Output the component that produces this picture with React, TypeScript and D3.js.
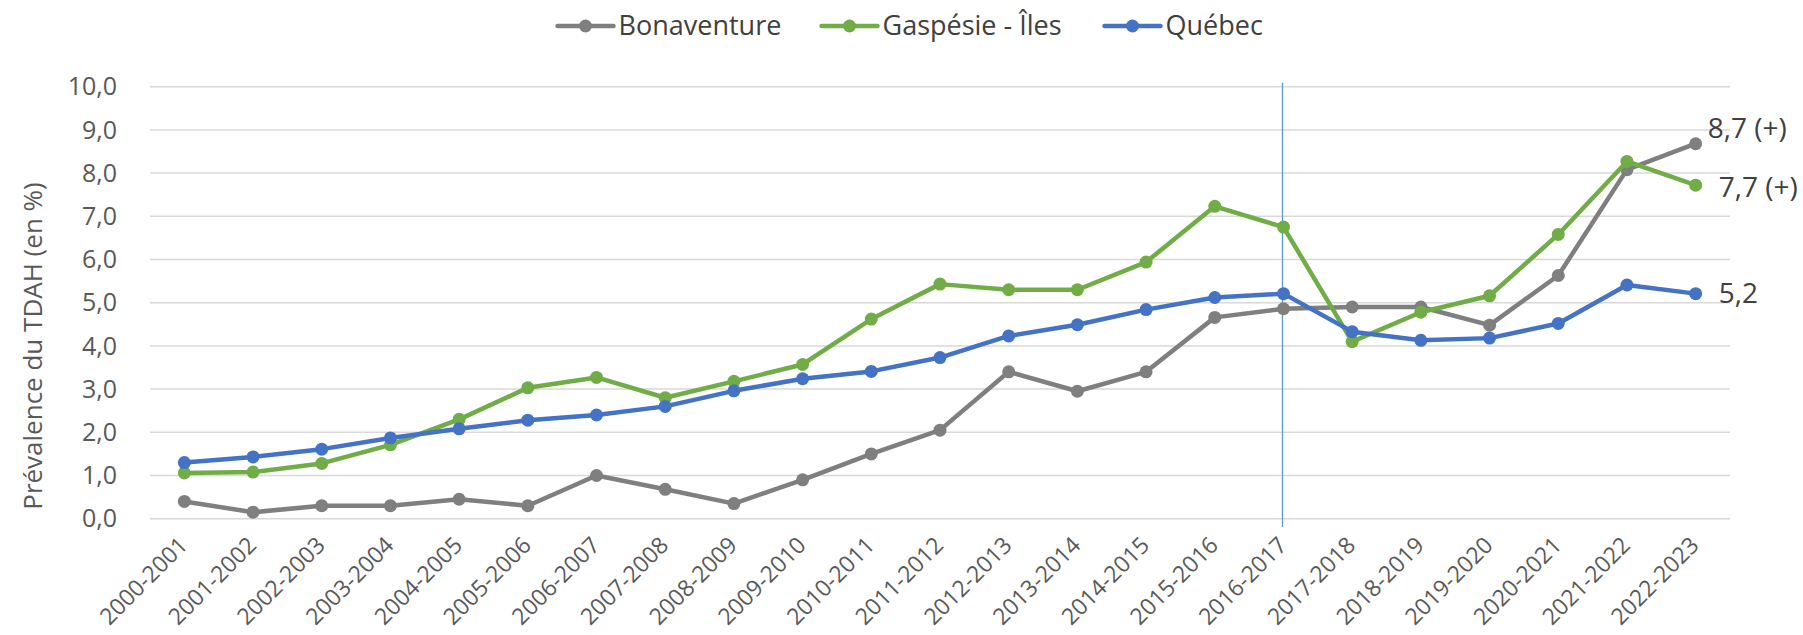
import React from "react";
import * as d3 from "d3";

const categories = [
  "2000-2001", "2001-2002", "2002-2003", "2003-2004", "2004-2005", "2005-2006",
  "2006-2007", "2007-2008", "2008-2009", "2009-2010", "2010-2011", "2011-2012",
  "2012-2013", "2013-2014", "2014-2015", "2015-2016", "2016-2017", "2017-2018",
  "2018-2019", "2019-2020", "2020-2021", "2021-2022", "2022-2023",
];

const bonaventure = [0.4, 0.15, 0.3, 0.3, 0.45, 0.3, 1.0, 0.68, 0.35, 0.9, 1.5, 2.05, 3.4, 2.95, 3.4, 4.66, 4.86, 4.9, 4.9, 4.48, 5.63, 8.08, 8.68];
const gaspesie = [1.06, 1.08, 1.28, 1.71, 2.3, 3.03, 3.27, 2.8, 3.18, 3.57, 4.62, 5.43, 5.3, 5.3, 5.94, 7.23, 6.75, 4.1, 4.78, 5.16, 6.58, 8.27, 7.72];
const quebec = [1.3, 1.43, 1.61, 1.87, 2.08, 2.28, 2.4, 2.6, 2.96, 3.24, 3.41, 3.73, 4.23, 4.49, 4.84, 5.12, 5.21, 4.33, 4.13, 4.18, 4.52, 5.41, 5.21];

const seriesNames = ["Bonaventure", "Gaspésie - Îles", "Québec"];
const seriesColors = ["#7F7F7F", "#70AD47", "#4472C4"];
const endLabels = ["8,7 (+)", "7,7 (+)", "5,2"];

const yTicks = [0, 1, 2, 3, 4, 5, 6, 7, 8, 9, 10];
const markerCategory = "2016-2017";
const yTitle = "Prévalence du TDAH (en %)";

const W = 1803;
const H = 635;
const FONT = "'Open Sans', 'Noto Sans', sans-serif";
const TEXT = "#595959";

export default function App() {
  const x = d3.scaleBand<string>().domain(categories).range([150, 1730]);
  const xc = (c: string) => (x(c) as number) + x.bandwidth() / 2;
  const y = d3.scaleLinear().domain([0, 10]).range([518.7, 86.7]);
  const fmt = (v: number) => d3.format(".1f")(v).replace(".", ",");

  const allSeries = [bonaventure, gaspesie, quebec];
  const line = d3
    .line<number>()
    .x((_, i) => xc(categories[i]))
    .y((d) => y(d));

  // legend layout
  const legendWidths = [164, 183, 100];
  const sym = 56;
  const gapSym = 5;
  const gapItem = 39;
  const totalLegend =
    legendWidths.reduce((a, b) => a + b, 0) + 3 * (sym + gapSym) + 2 * gapItem;
  let lx = 911.5 - totalLegend / 2;
  const legendPos = legendWidths.map((w) => {
    const p = lx;
    lx += sym + gapSym + w + gapItem;
    return p;
  });
  const legendY = 26;

  const lastIdx = categories.length - 1;
  const labelOffsets = [
    { dx: 12, dy: -16 },
    { dx: 23, dy: 2 },
    { dx: 23, dy: 0 },
  ];

  return (
    <svg
      width={W}
      height={H}
      style={{ position: "absolute", left: 0, top: 0, background: "#fff" }}
      fontFamily={FONT}
    >
      <rect x={0} y={0} width={W} height={H} fill="#fff" />
      {/* gridlines */}
      {yTicks.map((t) => (
        <line
          key={t}
          x1={150}
          x2={1730}
          y1={y(t)}
          y2={y(t)}
          stroke="#D9D9D9"
          strokeWidth={1.5}
        />
      ))}
      {/* y tick labels */}
      {yTicks.map((t) => (
        <text
          key={"yl" + t}
          x={117}
          y={y(t)}
          dy="0.35em"
          textAnchor="end"
          fontSize={25}
          fill={TEXT}
        >
          {fmt(t)}
        </text>
      ))}
      {/* y title */}
      <text
        transform={`translate(33,346) rotate(-90)`}
        textAnchor="middle"
        dy="0.35em"
        fontSize={26}
        fill={TEXT}
      >
        {yTitle}
      </text>
      {/* x labels */}
      {categories.map((c) => (
        <text
          key={c}
          transform={`translate(${xc(c) - 1},541) rotate(-45)`}
          textAnchor="end"
          dy="0.35em"
          fontSize={23}
          fill={TEXT}
        >
          {c}
        </text>
      ))}
      {/* vertical marker line */}
      <line
        x1={xc(markerCategory) - 1}
        x2={xc(markerCategory) - 1}
        y1={82.7}
        y2={527}
        stroke="#5B9BD5"
        strokeWidth={1.3}
      />
      {/* series */}
      {allSeries.map((s, si) => (
        <g key={si}>
          <path
            d={line(s) as string}
            fill="none"
            stroke={seriesColors[si]}
            strokeWidth={4.5}
            strokeLinejoin="round"
          />
          {s.map((v, i) => (
            <circle
              key={i}
              cx={xc(categories[i])}
              cy={y(v)}
              r={6.5}
              fill={seriesColors[si]}
            />
          ))}
        </g>
      ))}
      {/* end labels */}
      {allSeries.map((s, si) => (
        <text
          key={"el" + si}
          x={xc(categories[lastIdx]) + labelOffsets[si].dx}
          y={y(s[lastIdx]) + labelOffsets[si].dy}
          dy="0.35em"
          fontSize={28}
          fill="#404040"
        >
          {endLabels[si]}
        </text>
      ))}
      {/* legend */}
      {seriesNames.map((n, i) => (
        <g key={n} transform={`translate(${legendPos[i]},${legendY})`}>
          <line x1={0} x2={sym} y1={0} y2={0} stroke={seriesColors[i]} strokeWidth={4.5} strokeLinecap="round" />
          <circle cx={sym / 2} cy={0} r={6.5} fill={seriesColors[i]} />
          <text x={sym + gapSym} y={0} dy="0.35em" fontSize={27} fill="#404040">
            {n}
          </text>
        </g>
      ))}
    </svg>
  );
}
